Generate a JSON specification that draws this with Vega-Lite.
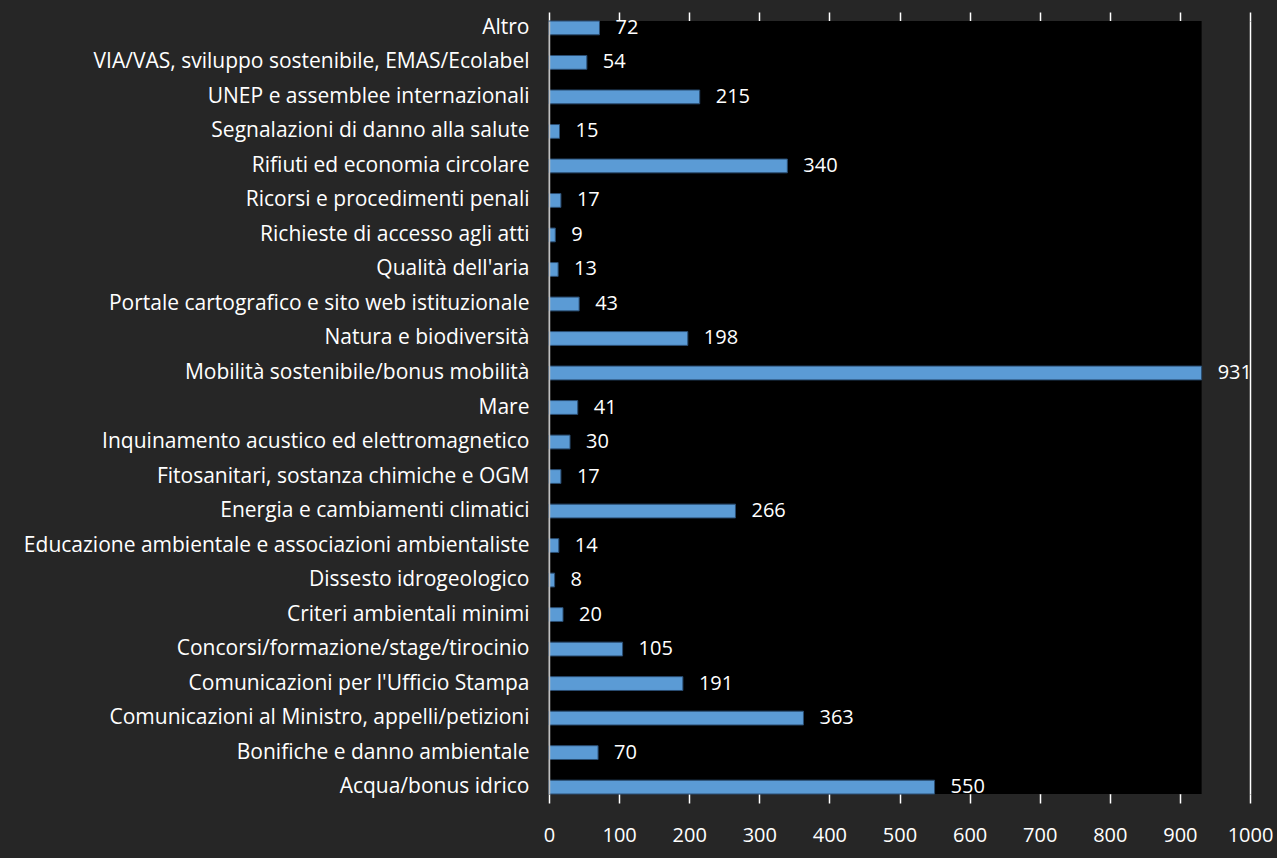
{
  "$schema": "https://vega.github.io/schema/vega-lite/v6.json",
  "autosize": {"type": "none"},
  "width": 701,
  "height": 773,
  "padding": {"left": 549, "top": 21, "right": 27, "bottom": 64},
  "background": "#262626",
  "config": {
    "view": {"stroke": null},
    "font": "Open Sans",
    "text": {"font": "Open Sans"}
  },
  "data": {
    "values": [
      {"Categoria": "Altro", "Valore": 72},
      {"Categoria": "VIA/VAS, sviluppo sostenibile, EMAS/Ecolabel", "Valore": 54},
      {"Categoria": "UNEP e assemblee internazionali", "Valore": 215},
      {"Categoria": "Segnalazioni di danno alla salute", "Valore": 15},
      {"Categoria": "Rifiuti ed economia circolare", "Valore": 340},
      {"Categoria": "Ricorsi e procedimenti penali", "Valore": 17},
      {"Categoria": "Richieste di accesso agli atti", "Valore": 9},
      {"Categoria": "Qualità dell'aria", "Valore": 13},
      {"Categoria": "Portale cartografico e sito web istituzionale", "Valore": 43},
      {"Categoria": "Natura e biodiversità", "Valore": 198},
      {"Categoria": "Mobilità sostenibile/bonus mobilità", "Valore": 931},
      {"Categoria": "Mare", "Valore": 41},
      {"Categoria": "Inquinamento acustico ed elettromagnetico", "Valore": 30},
      {"Categoria": "Fitosanitari, sostanza chimiche e OGM", "Valore": 17},
      {"Categoria": "Energia e cambiamenti climatici", "Valore": 266},
      {"Categoria": "Educazione ambientale e associazioni ambientaliste", "Valore": 14},
      {"Categoria": "Dissesto idrogeologico", "Valore": 8},
      {"Categoria": "Criteri ambientali minimi", "Valore": 20},
      {"Categoria": "Concorsi/formazione/stage/tirocinio", "Valore": 105},
      {"Categoria": "Comunicazioni per l'Ufficio Stampa", "Valore": 191},
      {"Categoria": "Comunicazioni al Ministro, appelli/petizioni", "Valore": 363},
      {"Categoria": "Bonifiche e danno ambientale", "Valore": 70},
      {"Categoria": "Acqua/bonus idrico", "Valore": 550}
    ]
  },
  "resolve": {"axis": {"x": "independent"}},
  "layer": [
    {
      "mark": {"type": "rect", "fill": "#000000"},
      "encoding": {
        "x": {"aggregate": "max", "field": "Valore", "type": "quantitative", "scale": {"domain": [0, 1000], "nice": false}, "axis": null},
        "x2": {"datum": 0}
      }
    },
    {
      "mark": {"type": "bar", "fill": "#5B9BD5", "stroke": "#2a4d72", "strokeWidth": 1},
      "encoding": {
        "y": {
          "field": "Categoria", "type": "nominal", "sort": null,
          "scale": {"paddingInner": 0.6, "paddingOuter": 0},
          "axis": {
            "title": null, "ticks": false, "labelPadding": 20, "labelLimit": 700,
            "labelColor": "#ffffff", "labelFontSize": 21, "labelFont": "Open Sans",
            "domainColor": "#bfbfbf", "domainWidth": 1.5, "zindex": 1
          }
        },
        "x": {
          "field": "Valore", "type": "quantitative",
          "axis": {
            "orient": "bottom", "title": null, "values": [0, 100, 200, 300, 400, 500, 600, 700, 800, 900, 1000],
            "format": "d", "labelFlush": false,
            "grid": true, "gridColor": "#ffffff", "gridWidth": 1.5, "labels": true,
            "domain": false, "ticks": true, "tickColor": "#ffffff", "tickSize": 9, "tickWidth": 1.5,
            "labelColor": "#ffffff", "labelFontSize": 20, "labelFont": "Open Sans", "labelPadding": 22
          }
        }
      }
    },
    {
      "mark": {"type": "bar", "opacity": 0},
      "encoding": {
        "y": {"field": "Categoria", "type": "nominal", "sort": null},
        "x": {
          "field": "Valore", "type": "quantitative",
          "axis": {
            "orient": "top", "title": null, "values": [0, 100, 200, 300, 400, 500, 600, 700, 800, 900, 1000],
            "grid": false, "domain": false, "labels": false,
            "ticks": true, "tickColor": "#ffffff", "tickSize": 9, "tickWidth": 1.5
          }
        }
      }
    },
    {
      "mark": {"type": "text", "align": "left", "baseline": "middle", "dx": 16, "fill": "#ffffff", "fontSize": 20, "font": "Open Sans"},
      "encoding": {
        "y": {"field": "Categoria", "type": "nominal", "sort": null},
        "x": {"field": "Valore", "type": "quantitative", "axis": null},
        "text": {"field": "Valore", "type": "quantitative"}
      }
    }
  ]
}
